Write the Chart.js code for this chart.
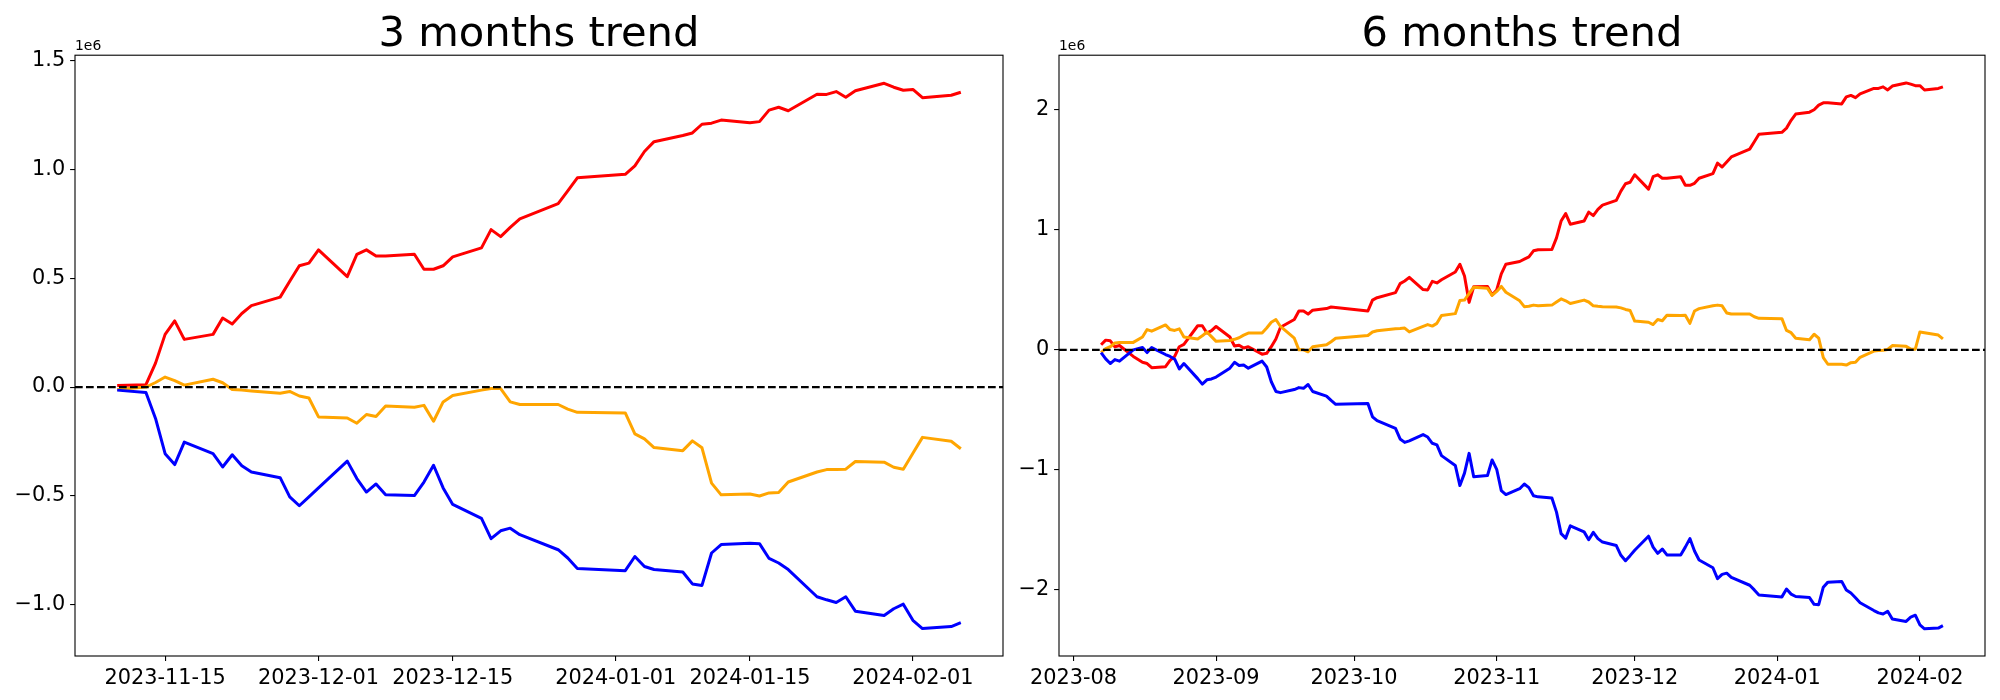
<!DOCTYPE html>
<html><head><meta charset="utf-8">
<script src="https://cdn.jsdelivr.net/npm/chart.js@4.4.1/dist/chart.umd.min.js"></script>
<style>
html,body{margin:0;padding:0;background:#fff;overflow:hidden;}
#wrap{position:relative;width:2000px;height:700px;background:#fff;}
canvas{position:absolute;top:0;}
#c1{left:0;} #c2{left:1010px;}
</style></head><body>
<div id="wrap"><canvas id="c1" width="1010" height="700"></canvas><canvas id="c2" width="990" height="700"></canvas></div>
<script>
// ---------- DATA (values in thousands) ----------
const UNIT = 1000;

const dates3 = ['2023-11-10','2023-11-13','2023-11-14','2023-11-15','2023-11-16','2023-11-17','2023-11-20','2023-11-21','2023-11-22','2023-11-23','2023-11-24','2023-11-27','2023-11-28','2023-11-29','2023-11-30',
'2023-12-01','2023-12-04','2023-12-05','2023-12-06','2023-12-07','2023-12-08','2023-12-11','2023-12-12','2023-12-13','2023-12-14','2023-12-15','2023-12-18','2023-12-19','2023-12-20','2023-12-21','2023-12-22','2023-12-26','2023-12-27','2023-12-28',
'2024-01-02','2024-01-03','2024-01-04','2024-01-05','2024-01-08','2024-01-09','2024-01-10','2024-01-11','2024-01-12','2024-01-15','2024-01-16','2024-01-17','2024-01-18','2024-01-19','2024-01-22','2024-01-23','2024-01-24','2024-01-25','2024-01-26','2024-01-29','2024-01-30','2024-01-31',
'2024-02-01','2024-02-02','2024-02-05','2024-02-06'];

const red3 = [7,11,110,242,304,219,242,317,290,338,374,413,486,557,569,
630,507,609,630,602,602,610,541,541,557,598,639,723,691,733,772,842,901,961,
977,1016,1082,1127,1155,1167,1207,1212,1226,1214,1219,1272,1285,1269,1345,1344,1357,1331,1361,1395,1377,1363,
1367,1329,1340,1354];
const orange3 = [-11,0,21,46,30,9,36,20,-11,-14,-18,-28,-20,-41,-50,
-137,-142,-166,-126,-135,-87,-93,-84,-157,-68,-39,-14,-7,-7,-68,-80,-80,-101,-116,
-119,-215,-238,-278,-292,-247,-279,-441,-495,-491,-500,-486,-484,-436,-390,-379,-379,-377,-342,-345,-368,-377,
-304,-231,-249,-283];
const blue3 = [-14,-25,-144,-306,-356,-253,-306,-367,-311,-361,-390,-416,-504,-545,-504,
-463,-340,-420,-482,-445,-495,-498,-436,-359,-463,-539,-603,-696,-660,-648,-678,-747,-785,-833,
-843,-778,-824,-838,-849,-904,-911,-762,-723,-717,-719,-787,-808,-838,-963,-977,-989,-963,-1029,-1049,-1018,-997,
-1071,-1109,-1100,-1082];

const dates6 = ['2023-08-07','2023-08-08','2023-08-09','2023-08-10','2023-08-11','2023-08-14','2023-08-16','2023-08-17','2023-08-18','2023-08-21','2023-08-22','2023-08-23','2023-08-24','2023-08-25','2023-08-28','2023-08-29','2023-08-30','2023-08-31',
'2023-09-01','2023-09-04','2023-09-05','2023-09-06','2023-09-07','2023-09-08','2023-09-11','2023-09-12','2023-09-13','2023-09-14','2023-09-15','2023-09-18','2023-09-19','2023-09-20','2023-09-21','2023-09-22','2023-09-25','2023-09-26','2023-09-27',
'2023-10-04','2023-10-05','2023-10-06','2023-10-10','2023-10-11','2023-10-12','2023-10-13','2023-10-16','2023-10-17','2023-10-18','2023-10-19','2023-10-20','2023-10-23','2023-10-24','2023-10-25','2023-10-26','2023-10-27','2023-10-30','2023-10-31',
'2023-11-01','2023-11-02','2023-11-03','2023-11-06','2023-11-07','2023-11-08','2023-11-09','2023-11-10','2023-11-13','2023-11-14','2023-11-15','2023-11-16','2023-11-17','2023-11-20','2023-11-21','2023-11-22','2023-11-23','2023-11-24','2023-11-27','2023-11-28','2023-11-29','2023-11-30',
'2023-12-01','2023-12-04','2023-12-05','2023-12-06','2023-12-07','2023-12-08','2023-12-11','2023-12-12','2023-12-13','2023-12-14','2023-12-15','2023-12-18','2023-12-19','2023-12-20','2023-12-21','2023-12-22','2023-12-26','2023-12-27','2023-12-28',
'2024-01-02','2024-01-03','2024-01-04','2024-01-05','2024-01-08','2024-01-09','2024-01-10','2024-01-11','2024-01-12','2024-01-15','2024-01-16','2024-01-17','2024-01-18','2024-01-19','2024-01-22','2024-01-23','2024-01-24','2024-01-25','2024-01-26','2024-01-29','2024-01-30','2024-01-31',
'2024-02-01','2024-02-02','2024-02-05','2024-02-06'];

const red6 = [42,81,75,26,36,-55,-104,-114,-149,-140,-88,-55,26,45,201,201,140,160,
195,107,32,39,16,26,-36,-29,26,91,188,253,324,324,298,331,344,357,354,
324,415,435,477,552,574,604,503,500,571,558,584,649,714,616,396,526,529,457,
500,633,714,737,756,775,826,835,837,934,1074,1136,1048,1074,1149,1119,1171,1207,1246,1324,1385,1398,
1460,1340,1444,1460,1431,1431,1444,1372,1372,1389,1431,1470,1557,1525,1567,1609,1674,1736,1798,
1814,1849,1914,1966,1982,2002,2041,2060,2060,2051,2109,2122,2103,2135,2180,2180,2193,2167,2200,2226,2216,2203,
2203,2167,2180,2193];
const orange6 = [-23,10,26,58,62,62,107,169,156,208,169,162,175,107,91,117,149,110,
71,78,88,101,123,140,140,182,230,253,195,97,0,0,-16,26,42,68,97,
120,149,159,175,178,182,149,195,211,198,221,286,302,412,415,470,522,513,454,
487,529,480,409,360,363,373,367,373,399,425,409,386,415,399,367,363,360,357,350,337,328,
240,230,211,253,243,289,286,289,221,324,344,367,373,367,308,299,299,276,263,
260,162,143,97,84,130,97,-65,-120,-120,-127,-107,-104,-62,-10,-6,-3,3,36,29,6,6,
149,143,123,91];
const blue6 = [-23,-75,-114,-81,-94,0,19,-23,19,-39,-55,-78,-159,-114,-240,-286,-250,-243,
-227,-153,-104,-130,-127,-153,-94,-143,-266,-347,-357,-331,-315,-321,-289,-347,-386,-422,-454,
-448,-558,-591,-655,-743,-772,-759,-707,-727,-779,-792,-882,-964,-1132,-1028,-863,-1058,-1048,-918,
-996,-1174,-1207,-1158,-1119,-1149,-1217,-1226,-1236,-1353,-1532,-1570,-1467,-1518,-1583,-1522,-1574,-1603,-1632,-1713,-1759,-1716,
-1671,-1554,-1645,-1697,-1661,-1710,-1710,-1645,-1574,-1677,-1752,-1817,-1908,-1872,-1862,-1898,-1963,-2002,-2044,
-2060,-1995,-2037,-2057,-2066,-2122,-2125,-1979,-1937,-1931,-2002,-2028,-2067,-2109,-2174,-2193,-2203,-2180,-2245,-2265,-2229,-2213,
-2294,-2326,-2320,-2300];

// tick labels
const xTicks3 = ['2023-11-15','2023-12-01','2023-12-15','2024-01-01','2024-01-15','2024-02-01'];
const xTicks6 = ['2023-08','2023-09','2023-10','2023-11','2023-12','2024-01','2024-02'];
const yTicks3 = [-1.0,-0.5,0.0,0.5,1.0,1.5];
const yTicks6 = [-2,-1,0,1,2];
const yLim3 = [-1.235, 1.524];
const yLim6 = [-2.553, 2.457];

// ---------- helpers ----------
const DAY = 86400000;
function toDay(s){ const p = s.split('-').map(Number); return Date.UTC(p[0], p[1]-1, p.length>2?p[2]:1)/DAY; }
function minusFmt(v, dec){ const s = Math.abs(v).toFixed(dec); return (v < -1e-9 ? '\u2212' : '') + s; }
const FONT = 'DejaVu Sans';

const framePlugin = {
  id: 'frame',
  afterDatasetsDraw(chart){
    const ctx = chart.ctx, a = chart.chartArea;
    ctx.save();
    ctx.strokeStyle = '#000'; ctx.lineWidth = 1.1;
    ctx.strokeRect(a.left, a.top, a.right - a.left, a.bottom - a.top);
    ctx.fillStyle = '#000';
    ctx.font = '13.9px "' + FONT + '"';
    ctx.textAlign = 'left'; ctx.textBaseline = 'alphabetic';
    ctx.fillText('1e6', a.left, a.top - 5);
    ctx.restore();
  }
};

function makeChart(id, cfg){
  const xs = cfg.dates.map(toDay);
  const span = xs[xs.length-1] - xs[0];
  const xmin = xs[0] - 0.05*span, xmax = xs[xs.length-1] + 0.05*span;
  const xTickVals = cfg.xTicks.map(toDay);
  const mk = (vals) => vals.map((v,i) => ({x: xs[i], y: v*UNIT}));
  const line = (label, vals, color, order) => ({label, data: mk(vals), borderColor: color, backgroundColor: color,
      borderWidth: 3.0, pointRadius: 0, tension: 0, fill: false, borderJoinStyle: 'round', order});
  return new Chart(document.getElementById(id), {
    type: 'line',
    data: { datasets: [
      {label:'zero', data:[{x:xmin,y:0},{x:xmax,y:0}], borderColor:'#000', borderWidth:2.2, borderDash:[7.7,3.3], pointRadius:0, fill:false, order:0},
      line('blue', cfg.blue, '#0000ff', 1),
      line('orange', cfg.orange, '#ffa500', 2),
      line('red', cfg.red, '#ff0000', 3)
    ]},
    options: {
      responsive: false, animation: false, devicePixelRatio: 1, events: [],
      layout: { padding: { left: 0, right: cfg.padRight, top: 0, bottom: 0 } },
      plugins: {
        legend: { display: false }, tooltip: { enabled: false },
        title: { display: true, text: cfg.title, fullSize: false, color: '#000',
          font: { family: FONT, size: 41.67, weight: 'normal', lineHeight: 0.941 },
          padding: { top: 16, bottom: 0 } }
      },
      scales: {
        x: { type: 'linear', min: xmin, max: xmax,
          afterBuildTicks: s => { s.ticks = xTickVals.map(v => ({value: v})); },
          afterFit: s => { s.height = 44; },
          ticks: { autoSkip: false, maxRotation: 0, minRotation: 0, padding: 4.9, color: '#000',
            font: { family: FONT, size: 20.83 }, callback: (v, i) => cfg.xTicks[i] },
          grid: { drawOnChartArea: false, drawTicks: true, tickLength: 4.9, color: '#000', lineWidth: 1.1 },
          border: { display: false } },
        y: { type: 'linear', min: cfg.yLim[0]*1e6, max: cfg.yLim[1]*1e6,
          afterBuildTicks: s => { s.ticks = cfg.yTicks.map(v => ({value: v*1e6})); },
          afterFit: s => { s.width = cfg.yWidth; },
          ticks: { autoSkip: false, padding: 4.9, color: '#000',
            font: { family: FONT, size: 20.83 }, callback: (v) => minusFmt(v/1e6, cfg.yDec) },
          grid: { drawOnChartArea: false, drawTicks: true, tickLength: 4.9, color: '#000', lineWidth: 1.1 },
          border: { display: false } }
      }
    },
    plugins: [framePlugin]
  });
}

makeChart('c1', { title: '3 months trend', dates: dates3, red: red3, orange: orange3, blue: blue3,
  xTicks: xTicks3, yTicks: yTicks3, yLim: yLim3, yDec: 1, yWidth: 75, padRight: 7 });
makeChart('c2', { title: '6 months trend', dates: dates6, red: red6, orange: orange6, blue: blue6,
  xTicks: xTicks6, yTicks: yTicks6, yLim: yLim6, yDec: 0, yWidth: 49, padRight: 15 });
</script>
</body></html>
